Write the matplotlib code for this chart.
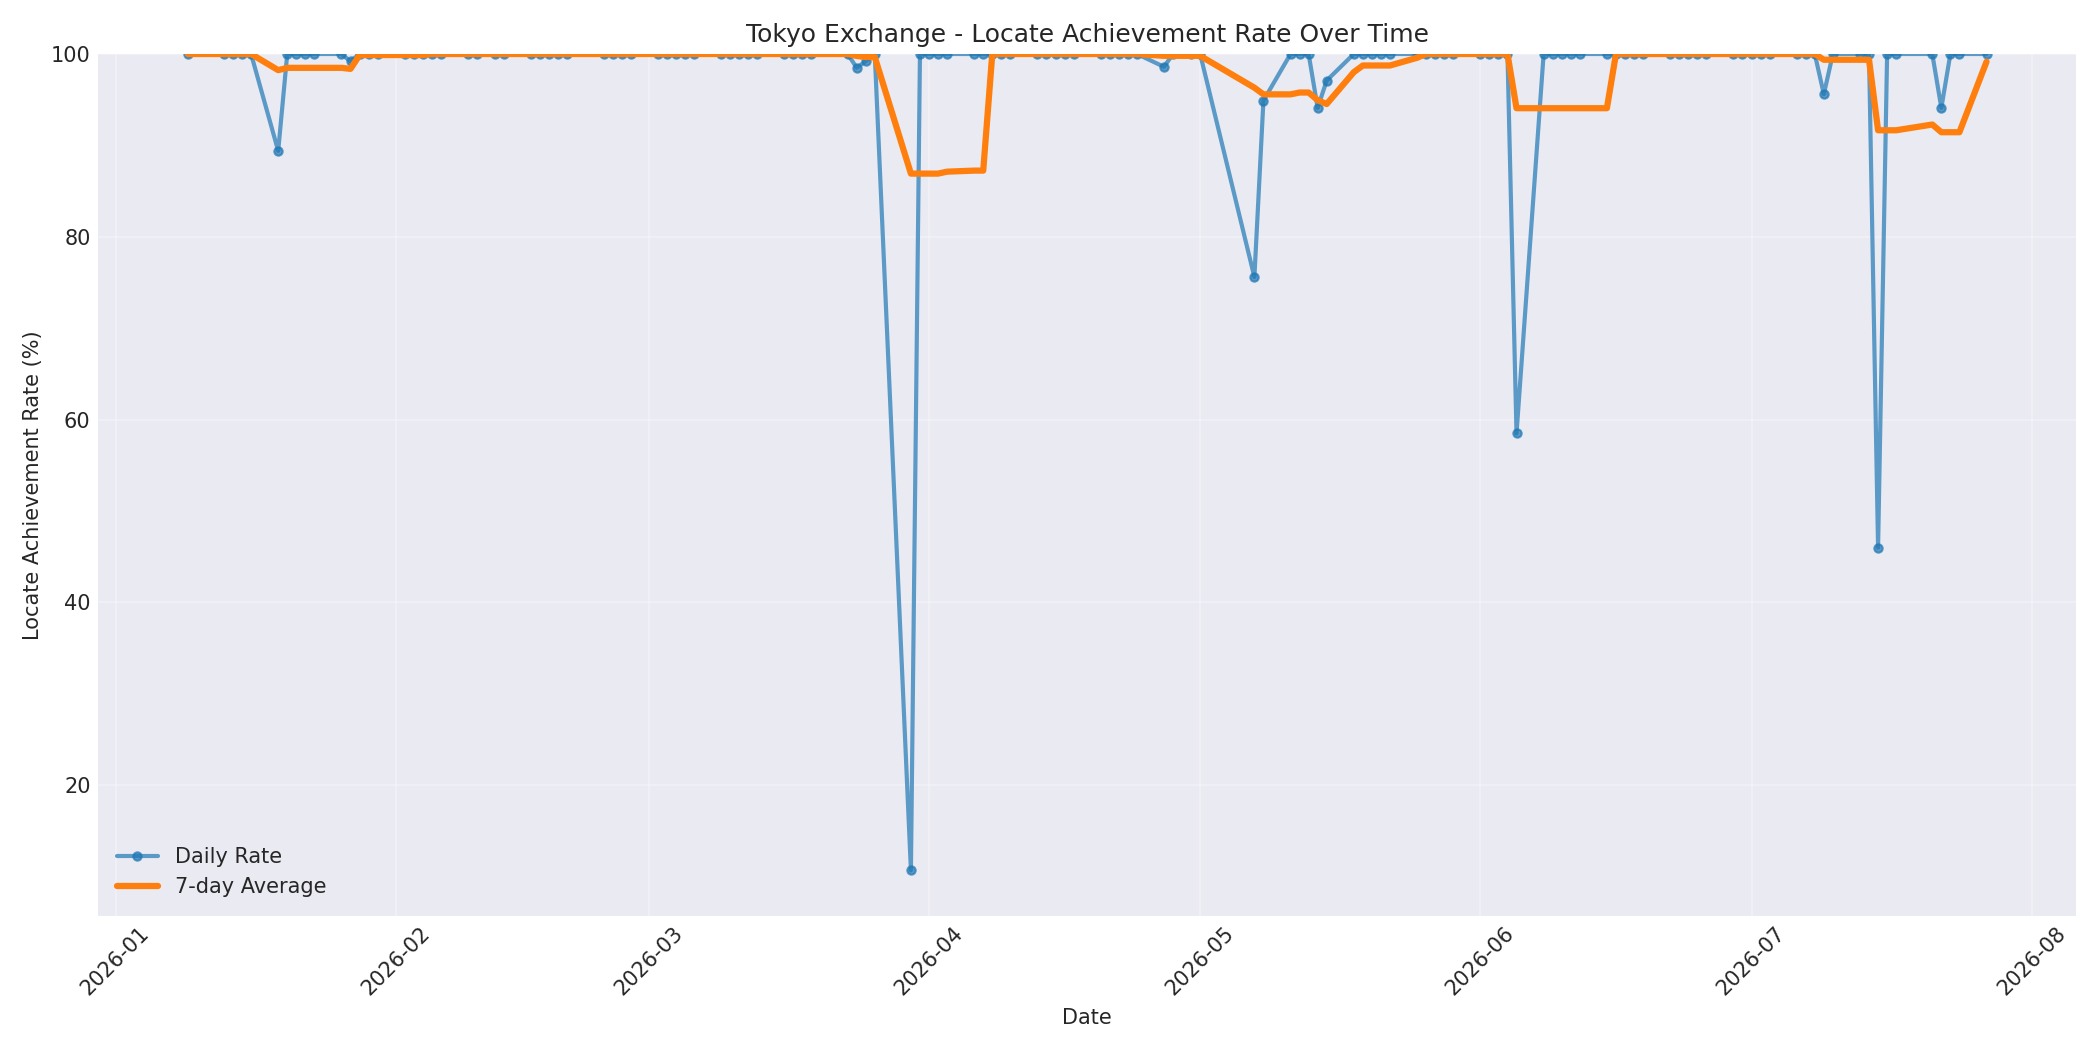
import matplotlib
matplotlib.use('Agg')
import matplotlib.pyplot as plt
import numpy as np
import pandas as pd

# trading days (Tokyo calendar), Jan 9 - Jul 27 2026
start_date = '2026-01-09'
end_date = '2026-07-27'
jp_holidays = ['2026-01-12', '2026-02-11', '2026-02-23', '2026-03-20',
               '2026-04-29', '2026-05-04', '2026-05-05', '2026-05-06',
               '2026-07-20']
no_data_days = ['2026-03-27']

# days where the locate rate was below 100%
dip_dates = ['2026-01-19', '2026-01-27', '2026-03-24', '2026-03-25',
             '2026-03-30', '2026-04-27', '2026-05-07', '2026-05-08',
             '2026-05-14', '2026-05-15', '2026-06-05', '2026-07-09',
             '2026-07-15', '2026-07-22']
dip_values = [89.4, 99.2, 98.5, 99.2,
              10.7, 98.6, 75.6, 94.9,
              94.1, 97.1, 58.5, 95.6,
              46.0, 94.1]

dates = pd.bdate_range(start_date, end_date, freq='C',
                       holidays=jp_holidays + no_data_days)
df = pd.DataFrame({'date': dates, 'rate': 100.0})
df = df.set_index('date')
df.loc[pd.to_datetime(dip_dates), 'rate'] = dip_values
df['avg7'] = df['rate'].rolling(7, min_periods=1).mean()

plt.style.use('seaborn-v0_8-darkgrid')
plt.rcParams['font.family'] = ['DejaVu Sans']
fig, ax = plt.subplots(figsize=(14, 7), dpi=150)

ax.plot(df.index, df['rate'], 'o-', color='#1f77b4', alpha=0.7,
        linewidth=2, markersize=4, label='Daily Rate')
ax.plot(df.index, df['avg7'], '-', color='#ff7f0e',
        linewidth=3, label='7-day Average')

ax.set_title('Tokyo Exchange - Locate Achievement Rate Over Time')
ax.set_xlabel('Date')
ax.set_ylabel('Locate Achievement Rate (%)')
ax.set_ylim(df['rate'].min() - 5, 100)
ax.grid(True, alpha=0.3)
ax.legend(loc='lower left')
plt.xticks(rotation=45)

plt.tight_layout()
plt.savefig('out.png', dpi=150)
